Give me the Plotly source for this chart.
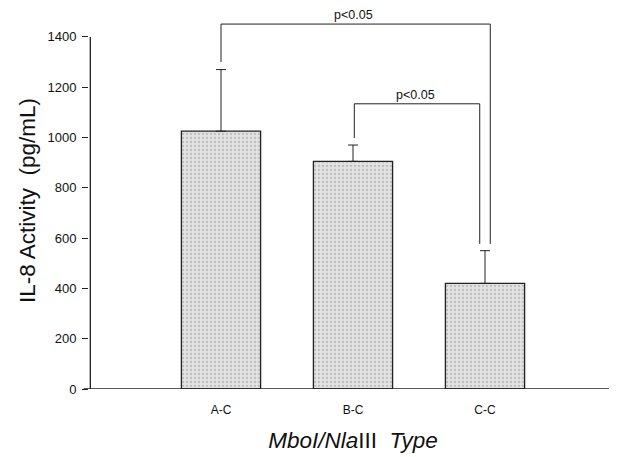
import plotly.graph_objects as go

categories = ["A-C", "B-C", "C-C"]
positions = [1, 2, 3]
means = [1025, 905, 420]
errors_up = [245, 65, 130]
y_ticks = [0, 200, 400, 600, 800, 1000, 1200, 1400]

# significance brackets (data units)
outer_x = [1.0, 1.0, 3.04, 3.04]
outer_y = [1300, 1451, 1451, 577]
inner_x = [2.01, 2.01, 2.96, 2.96]
inner_y = [998, 1134, 1134, 577]
sig_label = "p<0.05"

FONT = "Liberation Sans, Arial, sans-serif"

fig = go.Figure()
fig.add_trace(go.Bar(
    x=positions, y=means, width=0.6,
    marker=dict(color="#dedede", line=dict(color="#222", width=1.3),
                pattern=dict(shape=".", fgcolor="#9a9a9a", bgcolor="#e2e2e2", size=4, solidity=0.25)),
    error_y=dict(type="data", symmetric=False, array=errors_up, arrayminus=[0, 0, 0],
                 color="#222", thickness=1, width=5),
    showlegend=False, hoverinfo="skip",
))
for bx, by in [(outer_x, outer_y), (inner_x, inner_y)]:
    fig.add_trace(go.Scatter(x=bx, y=by, mode="lines", line=dict(color="#222", width=1),
                             showlegend=False, hoverinfo="skip"))

fig.add_annotation(x=2.0, y=1451, text=sig_label, showarrow=False, yanchor="bottom", yshift=0,
                   font=dict(family=FONT, size=12.5, color="#111"))
fig.add_annotation(x=2.47, y=1134, text=sig_label, showarrow=False, yanchor="bottom", yshift=0,
                   font=dict(family=FONT, size=12.5, color="#111"))

# axis lines
fig.add_shape(type="line", xref="x", yref="y", x0=0.01, x1=0.01, y0=0, y1=1400,
              line=dict(color="#222", width=1.3))
fig.add_shape(type="line", xref="paper", yref="y", x0=-0.01, x1=1, y0=0, y1=0,
              line=dict(color="#222", width=1.3))

fig.update_layout(
    width=609, height=449,
    margin=dict(l=81, r=0, t=4, b=68),
    plot_bgcolor="white", paper_bgcolor="white",
    font=dict(family=FONT, color="#111"),
    xaxis=dict(range=[0, 4], tickvals=positions, ticktext=categories, showline=False,
               showgrid=False, zeroline=False, ticks="", tickfont=dict(size=12),
               ticklabelstandoff=12, automargin=False,
               title=dict(text="<i>MboI/Nla</i>III  <i>Type</i>", font=dict(size=22.5), standoff=16)),
    yaxis=dict(range=[0, 1499], tickvals=y_ticks, showline=False, showgrid=False,
               zeroline=False, ticks="outside", ticklen=6, tickcolor="#222",
               tickfont=dict(size=13), ticklabelstandoff=3, automargin=False,
               title=dict(text="IL-8 Activity  (pg/mL)", font=dict(size=22.5), standoff=5)),
)

fig.write_html("out.html")
